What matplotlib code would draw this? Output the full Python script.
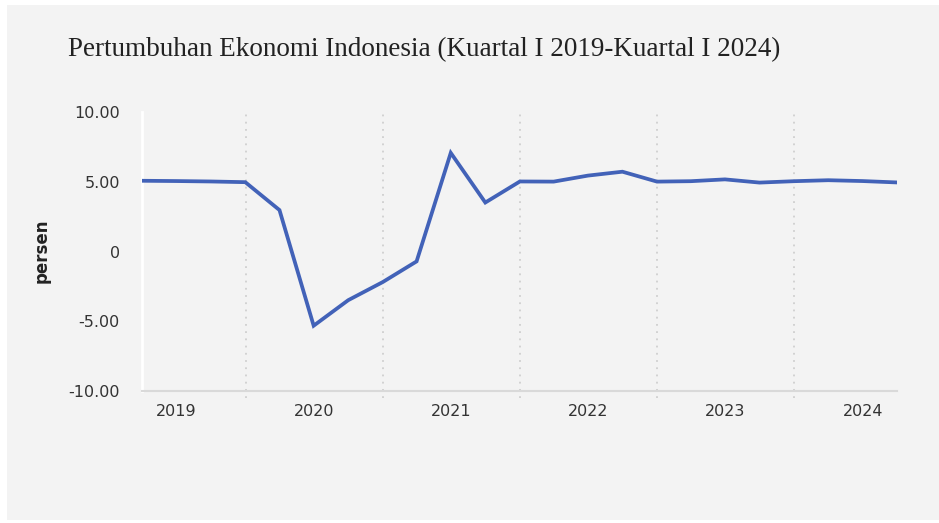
import matplotlib
matplotlib.use("Agg")
import matplotlib.pyplot as plt
import datetime as dt
from matplotlib.patches import Rectangle

# data kuartalan (akhir kuartal), persen yoy
tanggal_kuartal = [
    "2019-03-31", "2019-06-30", "2019-09-30", "2019-12-31",
    "2020-03-31", "2020-06-30", "2020-09-30", "2020-12-31",
    "2021-03-31", "2021-06-30", "2021-09-30", "2021-12-31",
    "2022-03-31", "2022-06-30", "2022-09-30", "2022-12-31",
    "2023-03-31", "2023-06-30", "2023-09-30", "2023-12-31",
    "2024-03-31", "2024-06-30", "2024-09-30",
]
pertumbuhan = [
    5.07, 5.05, 5.02, 4.97,
    2.97, -5.32, -3.49, -2.19,
    -0.71, 7.07, 3.51, 5.02,
    5.01, 5.44, 5.72, 5.01,
    5.04, 5.17, 4.94, 5.04,
    5.11, 5.05, 4.95,
]
tahun = [2019, 2020, 2021, 2022, 2023, 2024]
y_ticks = [10, 5, 0, -5, -10]
y_labels = ["10.00", "5.00", "0", "-5.00", "-10.00"]

judul = "Pertumbuhan Ekonomi Indonesia (Kuartal I 2019-Kuartal I 2024)"

x = [dt.datetime.strptime(t, "%Y-%m-%d") for t in tanggal_kuartal]

fig = plt.figure(figsize=(9.39, 5.23), dpi=100, facecolor="white")
# panel abu-abu di belakang
fig.patches.append(Rectangle((7 / 939, 3 / 523), 1 - 7 / 939, 1 - 8 / 523,
                             transform=fig.transFigure, facecolor="#f3f3f3",
                             edgecolor="none", zorder=-10))

ax = fig.add_axes([142 / 939, 132 / 523, 755 / 939, 279 / 523])
ax.set_facecolor("none")

ax.plot(x, pertumbuhan, color="#4262b8", linewidth=2.7, solid_joinstyle="miter",
        zorder=3)

ax.set_xlim(x[0], x[-1])
ax.set_ylim(-10, 10)

# garis pemisah tahun
for th in tahun[1:]:
    ax.vlines(dt.datetime(th, 1, 1), -10.5, 10, colors="#cfcfcf",
              linestyles=(0, (1, 3)), linewidth=1.3, clip_on=False, zorder=1)

ax.set_xticks([])
ax.set_xticks([dt.datetime(th, 7, 1) for th in tahun], minor=True)
ax.set_xticklabels([str(th) for th in tahun], minor=True)
ax.tick_params(axis="x", which="both", length=0, pad=9, labelsize=11.5,
               labelcolor="#333333")

ax.set_yticks(y_ticks)
ax.set_yticklabels(y_labels)
ax.tick_params(axis="y", length=0, pad=16, labelsize=11.5, labelcolor="#333333")

for s in ["top", "right"]:
    ax.spines[s].set_visible(False)
ax.spines["left"].set_color("white")
ax.spines["left"].set_linewidth(2)
ax.spines["bottom"].set_color("#d9d9d9")
ax.spines["bottom"].set_linewidth(1.5)

fig.text(42 / 939, 1 - 251 / 523, "persen", rotation=90, fontsize=12,
         fontweight="bold", color="#222222", ha="center", va="center")

fig.text(68 / 939, 1 - 50 / 523, judul, fontsize=19.5,
         family="Liberation Serif", color="#222222", ha="left", va="center")

fig.savefig("out.png", dpi=100, facecolor=fig.get_facecolor())
